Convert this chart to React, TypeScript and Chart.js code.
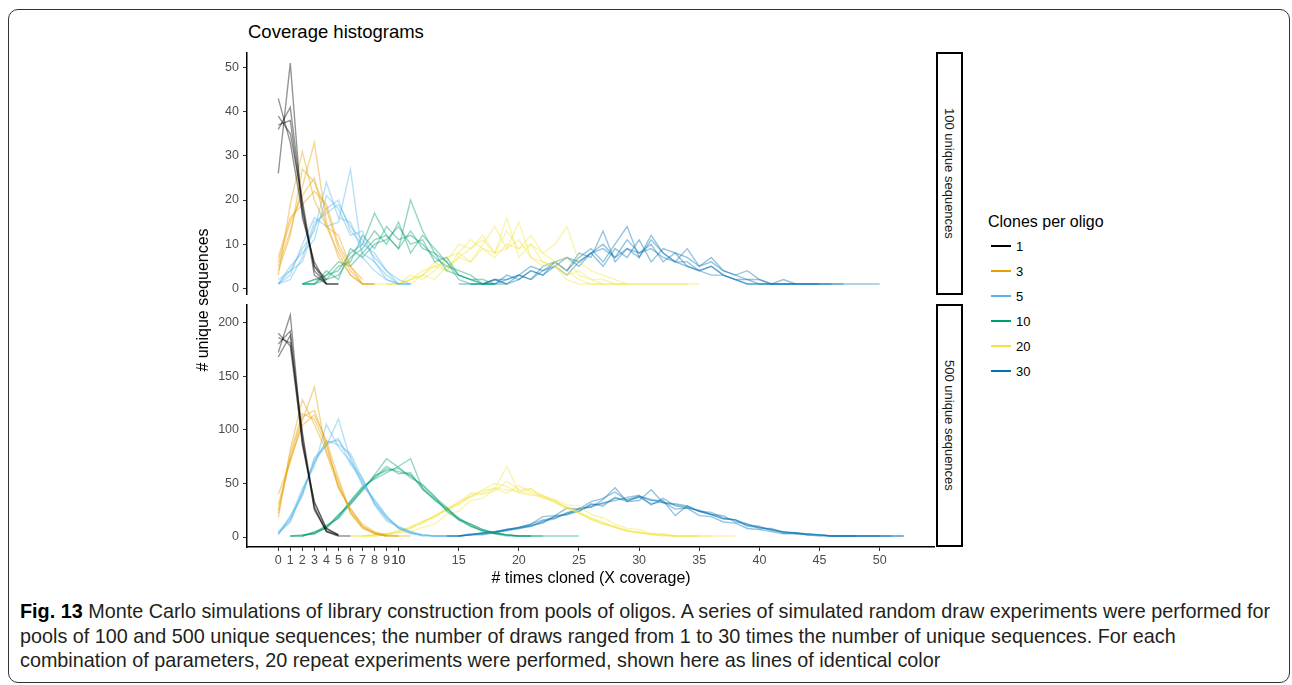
import React, { useEffect, useRef } from "react";
import { Chart, registerables } from "chart.js";
Chart.register(...registerables);

type Run = { start: number; counts: number[] };

// ---------- data ----------
const groupLabels = ["1", "3", "5", "10", "20", "30"];
const groupColors = ["#000000", "#E69F00", "#56B4E9", "#009E73", "#F0E442", "#0072B2"];
const xTickValues = [0, 1, 2, 3, 4, 5, 6, 7, 8, 9, 10, 10, 15, 20, 25, 30, 35, 40, 45, 50];
const yTicksTop = [0, 10, 20, 30, 40, 50];
const yTicksBottom = [0, 50, 100, 150, 200];
const xRange = [-2.6, 54.6];
const yRangeTop = [-1.5, 53.5];
const yRangeBottom = [-9.3, 217.3];
const panelLabels = ["100 unique sequences", "500 unique sequences"];

// 100 unique sequences
const top1: Run[] = [
  { start: 0, counts: [37, 38, 18, 5, 2] },
  { start: 0, counts: [43, 33, 17, 5, 1, 1] },
  { start: 0, counts: [26, 51, 16, 6, 1] },
  { start: 0, counts: [36, 41, 19, 3, 1] },
  { start: 0, counts: [39, 35, 20, 4, 1, 1] },
];
const top3: Run[] = [
  { start: 0, counts: [5, 13, 23, 33, 15, 7, 3, 1] },
  { start: 0, counts: [3, 19, 31, 20, 14, 8, 3, 1, 1] },
  { start: 0, counts: [7, 16, 19, 22, 19, 10, 5, 2] },
  { start: 0, counts: [4, 12, 27, 24, 18, 9, 4, 1, 1] },
  { start: 0, counts: [6, 15, 21, 25, 14, 12, 5, 1, 1] },
];
const top5: Run[] = [
  { start: 0, counts: [1, 4, 9, 13, 24, 16, 15, 8, 6, 2, 1, 1] },
  { start: 0, counts: [1, 2, 7, 15, 17, 19, 14, 11, 7, 4, 2, 1] },
  { start: 0, counts: [1, 5, 8, 11, 21, 18, 12, 13, 6, 3, 1, 1] },
  { start: 0, counts: [1, 3, 10, 16, 14, 15, 27, 7, 4, 2, 1] },
  { start: 0, counts: [2, 4, 6, 14, 18, 20, 13, 10, 8, 4, 1, 1] },
];
const top10: Run[] = [
  { start: 2, counts: [1, 1, 3, 4, 8, 10, 17, 12, 9, 20, 13, 8, 6, 3, 2, 1, 1, 1] },
  { start: 2, counts: [1, 2, 2, 5, 6, 12, 9, 14, 11, 12, 10, 7, 5, 4, 3, 1, 1] },
  { start: 2, counts: [1, 1, 2, 3, 7, 9, 13, 10, 15, 8, 12, 9, 6, 2, 1, 1, 1] },
  { start: 2, counts: [1, 2, 3, 6, 5, 8, 11, 12, 9, 13, 9, 8, 4, 3, 2, 2, 1] },
  { start: 2, counts: [1, 1, 4, 2, 9, 7, 10, 11, 14, 10, 11, 6, 7, 3, 2, 1] },
];
const top20: Run[] = [
  { start: 9, counts: [1, 1, 2, 3, 5, 4, 7, 9, 12, 8, 16, 7, 10, 6, 5, 3, 4, 2, 1, 1, 1] },
  { start: 10, counts: [1, 2, 3, 6, 4, 8, 11, 9, 7, 10, 9, 12, 8, 10, 14, 6, 4, 3, 2, 1, 1, 1, 1, 1, 1] },
  { start: 8, counts: [1, 1, 1, 2, 4, 5, 6, 10, 9, 11, 8, 9, 15, 7, 6, 5, 2, 1, 1, 1] },
  { start: 11, counts: [1, 3, 2, 5, 7, 6, 9, 8, 13, 9, 10, 8, 6, 7, 3, 2, 2, 1, 1] },
  { start: 9, counts: [1, 1, 3, 2, 4, 7, 8, 6, 10, 14, 9, 11, 7, 5, 6, 4, 2, 1, 1, 1, 1, 1, 1, 1, 1, 1, 1] },
];
const top30: Run[] = [
  { start: 16, counts: [1, 1, 2, 1, 3, 2, 4, 5, 3, 6, 8, 5, 9, 7, 11, 6, 9, 8, 7, 5, 6, 4, 3, 4, 2, 1, 2, 1, 1, 1, 1, 1] },
  { start: 17, counts: [1, 2, 1, 2, 4, 3, 6, 4, 7, 9, 6, 10, 14, 7, 12, 8, 6, 9, 5, 7, 4, 3, 2, 2, 1, 1, 1, 1, 1, 1, 1, 1, 1, 1] },
  { start: 15, counts: [1, 1, 1, 2, 2, 3, 5, 4, 6, 7, 5, 8, 10, 7, 9, 8, 10, 6, 8, 5, 4, 5, 3, 2, 2, 1, 1, 1, 1] },
  { start: 18, counts: [1, 2, 3, 2, 5, 6, 4, 8, 7, 13, 6, 9, 7, 11, 8, 6, 5, 4, 3, 3, 2, 1, 1, 1, 1, 1, 1, 1] },
  { start: 17, counts: [1, 1, 3, 2, 4, 3, 5, 7, 6, 8, 9, 7, 11, 8, 9, 7, 6, 6, 4, 5, 3, 2, 1, 1, 1, 1, 1, 1, 1, 1] },
];

// 500 unique sequences
const bot1: Run[] = [
  { start: 0, counts: [180, 192, 95, 25, 6, 2] },
  { start: 0, counts: [190, 178, 90, 32, 8, 2] },
  { start: 0, counts: [172, 207, 88, 27, 5, 1] },
  { start: 0, counts: [186, 181, 98, 28, 5, 1, 1] },
  { start: 0, counts: [168, 188, 86, 33, 8, 2] },
];
const bot3: Run[] = [
  { start: 0, counts: [25, 78, 115, 110, 85, 48, 24, 10, 4, 1, 1] },
  { start: 0, counts: [18, 82, 128, 105, 80, 52, 22, 9, 3, 1] },
  { start: 0, counts: [40, 70, 108, 140, 78, 47, 26, 12, 5, 2, 1, 1] },
  { start: 0, counts: [22, 74, 112, 118, 88, 45, 27, 10, 3, 1, 1] },
  { start: 0, counts: [30, 72, 104, 114, 90, 55, 23, 8, 4, 1] },
];
const bot5: Run[] = [
  { start: 0, counts: [3, 15, 40, 72, 88, 90, 75, 50, 32, 18, 9, 4, 2, 1, 1] },
  { start: 0, counts: [5, 18, 45, 66, 105, 84, 70, 55, 30, 15, 10, 5, 2, 1] },
  { start: 0, counts: [2, 20, 38, 74, 85, 110, 72, 48, 35, 20, 8, 3, 2, 1] },
  { start: 0, counts: [4, 14, 43, 69, 90, 86, 78, 54, 31, 17, 8, 4, 1, 1, 1] },
  { start: 0, counts: [3, 17, 41, 70, 86, 92, 68, 52, 34, 19, 9, 5, 1] },
];
const bot10: Run[] = [
  { start: 1, counts: [1, 1, 4, 10, 18, 33, 46, 55, 64, 61, 58, 46, 35, 27, 17, 10, 6, 4, 2, 1, 1, 1, 1, 1, 1] },
  { start: 2, counts: [2, 3, 9, 21, 30, 44, 58, 73, 65, 55, 49, 38, 24, 16, 12, 7, 3, 2, 1, 1] },
  { start: 1, counts: [1, 1, 5, 8, 19, 34, 47, 54, 60, 66, 73, 45, 34, 26, 18, 11, 5, 4, 2, 1] },
  { start: 2, counts: [1, 4, 11, 17, 31, 43, 57, 62, 64, 57, 48, 37, 28, 16, 10, 6, 3, 1, 1, 1, 1] },
  { start: 1, counts: [1, 2, 3, 9, 20, 32, 45, 56, 66, 59, 60, 44, 36, 25, 17, 12, 7, 4, 2, 1, 1] },
];
const bot20: Run[] = [
  { start: 6, counts: [1, 1, 2, 3, 5, 8, 14, 20, 25, 33, 38, 41, 46, 44, 43, 40, 37, 33, 28, 22, 17, 13, 9, 6, 4, 3, 2, 1, 1, 1, 1, 1, 1] },
  { start: 7, counts: [1, 1, 3, 6, 9, 13, 19, 27, 31, 37, 44, 50, 47, 41, 39, 38, 32, 26, 23, 16, 12, 10, 6, 4, 2, 2, 1, 1, 1] },
  { start: 7, counts: [1, 1, 2, 4, 5, 9, 12, 21, 24, 34, 36, 45, 66, 42, 45, 38, 35, 30, 29, 21, 18, 12, 8, 7, 3, 3, 1, 1, 1] },
  { start: 6, counts: [1, 1, 2, 3, 4, 10, 15, 18, 26, 32, 41, 40, 43, 52, 44, 45, 36, 34, 27, 22, 18, 14, 9, 5, 5, 2, 2, 1, 1, 1, 1] },
  { start: 7, counts: [1, 2, 2, 6, 8, 14, 20, 25, 30, 39, 43, 45, 41, 48, 42, 39, 33, 27, 24, 17, 12, 9, 6, 4, 3, 1, 1] },
];
const bot30: Run[] = [
  { start: 14, counts: [1, 1, 2, 3, 5, 6, 9, 10, 15, 17, 23, 24, 30, 31, 36, 35, 38, 34, 34, 20, 29, 24, 23, 18, 16, 11, 10, 6, 5, 4, 3, 2, 1, 1, 1, 1, 1, 1, 1] },
  { start: 13, counts: [1, 1, 1, 2, 4, 5, 7, 9, 12, 19, 20, 27, 26, 33, 36, 42, 34, 37, 31, 33, 26, 27, 20, 19, 14, 13, 8, 7, 5, 3, 3, 2, 1, 1, 1, 1] },
  { start: 15, counts: [1, 2, 2, 4, 7, 8, 10, 14, 19, 21, 26, 28, 35, 46, 33, 38, 35, 32, 30, 28, 24, 21, 17, 16, 12, 9, 7, 4, 4, 2, 2, 1, 1, 1, 1, 1, 1, 1] },
  { start: 14, counts: [1, 1, 3, 3, 5, 7, 9, 12, 16, 18, 22, 27, 28, 32, 34, 37, 39, 30, 36, 29, 27, 25, 21, 20, 14, 12, 8, 8, 4, 4, 2, 2, 1, 1, 1, 1, 1, 1] },
  { start: 15, counts: [1, 2, 4, 4, 6, 8, 11, 13, 20, 21, 24, 31, 29, 37, 33, 34, 44, 32, 31, 29, 24, 21, 17, 16, 10, 9, 7, 5, 3, 3, 2, 1, 1, 1, 1, 1] },
];

const topPanel = [top1, top3, top5, top10, top20, top30];
const bottomPanel = [bot1, bot3, bot5, bot10, bot20, bot30];

const captionLine1 = " Monte Carlo simulations of library construction from pools of oligos. A series of simulated random draw experiments were performed for";
const captionLine2 = "pools of 100 and 500 unique sequences; the number of draws ranged from 1 to 30 times the number of unique sequences. For each";
const captionLine3 = "combination of parameters, 20 repeat experiments were performed, shown here as lines of identical color";

// ---------- helpers ----------
const FONT = '"Liberation Sans", Arial, Helvetica, sans-serif';

function rgba(hex: string, a: number) {
  const n = parseInt(hex.slice(1), 16);
  return `rgba(${(n >> 16) & 255},${(n >> 8) & 255},${n & 255},${a})`;
}

function buildDatasets(panel: Run[][]) {
  const ds: any[] = [];
  panel.forEach((runs, gi) => {
    runs.forEach((run) => {
      ds.push({
        label: groupLabels[gi],
        data: run.counts.map((c, i) => ({ x: run.start + i, y: c })),
        borderColor: rgba(groupColors[gi], 0.42),
        borderWidth: 1.4,
        pointRadius: 0,
        pointHoverRadius: 0,
        fill: false,
        tension: 0,
      });
    });
  });
  return ds;
}

function yScale(range: number[], ticks: number[]) {
  return {
    type: "linear",
    min: range[0],
    max: range[1],
    afterBuildTicks: (s: any) => {
      s.ticks = ticks.map((v) => ({ value: v }));
    },
    afterFit: (s: any) => {
      s.width = 40;
      s.paddingTop = 0;
      s.paddingBottom = 0;
    },
    ticks: { font: { family: FONT, size: 12.5 }, color: "#4d4d4d", padding: 4 },
    grid: { drawOnChartArea: false, drawTicks: true, tickLength: 4, color: "#333333", lineWidth: 1 },
    border: { display: true, color: "#000000", width: 1.5 },
  };
}

function makeChart(canvas: HTMLCanvasElement, panel: Run[][], bottom: boolean) {
  const xScale: any = bottom
    ? {
        type: "linear",
        min: xRange[0],
        max: xRange[1],
        afterBuildTicks: (s: any) => {
          s.ticks = xTickValues.map((v) => ({ value: v }));
        },
        afterFit: (s: any) => {
          s.height = 43;
          s.paddingLeft = 0;
          s.paddingRight = 0;
        },
        ticks: { autoSkip: false, maxRotation: 0, minRotation: 0, font: { family: FONT, size: 12.5 }, color: "#4d4d4d", padding: 2 },
        grid: { drawOnChartArea: false, drawTicks: true, tickLength: 4, color: "#333333", lineWidth: 1 },
        border: { display: true, color: "#000000", width: 1.5 },
        title: {
          display: true,
          text: "# times cloned (X coverage)",
          font: { family: FONT, size: 16 },
          color: "#000000",
          padding: { top: 0, bottom: 2 },
        },
      }
    : { type: "linear", display: false, min: xRange[0], max: xRange[1] };

  return new Chart(canvas, {
    type: "line",
    data: { datasets: buildDatasets(panel) },
    options: {
      responsive: false,
      animation: false,
      devicePixelRatio: 1,
      events: [],
      layout: { padding: 0 },
      plugins: { legend: { display: false }, tooltip: { enabled: false }, title: { display: false } },
      scales: {
        x: xScale,
        y: bottom ? yScale(yRangeBottom, yTicksBottom) : yScale(yRangeTop, yTicksTop),
      } as any,
    },
  } as any);
}

export default function App() {
  const topRef = useRef<HTMLCanvasElement>(null);
  const botRef = useRef<HTMLCanvasElement>(null);

  useEffect(() => {
    const c1 = makeChart(topRef.current!, topPanel, false);
    const c2 = makeChart(botRef.current!, bottomPanel, true);
    return () => {
      c1.destroy();
      c2.destroy();
    };
  }, []);

  const abs = (s: React.CSSProperties): React.CSSProperties => ({ position: "absolute", ...s });
  const captionStyle = (top: number): React.CSSProperties =>
    abs({ left: 20, top, fontSize: 19.8, lineHeight: "20px", whiteSpace: "nowrap", color: "#231f20" });

  return (
    <div
      style={{
        position: "absolute",
        left: 0,
        top: 0,
        width: 1292,
        height: 685,
        background: "#ffffff",
        overflow: "hidden",
        fontFamily: FONT,
        color: "#000",
      }}
    >
      <div
        style={abs({
          left: 8,
          top: 9,
          width: 1282,
          height: 674,
          border: "1.5px solid #333",
          borderRadius: 10,
          boxSizing: "border-box",
        })}
      />
      <div style={abs({ left: 248, top: 23, fontSize: 18.5, lineHeight: "18.5px", whiteSpace: "nowrap" })}>
        Coverage histograms
      </div>

      <canvas ref={topRef} width={728} height={243} style={abs({ left: 207, top: 52, width: 728, height: 243 })} />
      <canvas ref={botRef} width={728} height={286} style={abs({ left: 207, top: 304, width: 728, height: 286 })} />

      <div
        style={abs({
          left: 53,
          top: 289.5,
          width: 300,
          height: 20,
          lineHeight: "20px",
          fontSize: 16,
          textAlign: "center",
          transform: "rotate(-90deg)",
          whiteSpace: "nowrap",
        })}
      >
        # unique sequences
      </div>

      {panelLabels.map((t, i) => (
        <div
          key={t}
          style={abs({
            left: 936,
            top: i === 0 ? 52 : 304,
            width: 27,
            height: 243,
            border: "2.5px solid #000",
            boxSizing: "border-box",
            background: "#fff",
            display: "flex",
            alignItems: "center",
            justifyContent: "center",
          })}
        >
          <span style={{ writingMode: "vertical-rl", fontSize: 13, color: "#1a1a1a", whiteSpace: "nowrap" }}>{t}</span>
        </div>
      ))}

      <div style={abs({ left: 988, top: 214, fontSize: 16, lineHeight: "16px", whiteSpace: "nowrap" })}>
        Clones per oligo
      </div>
      {groupLabels.map((g, i) => (
        <React.Fragment key={g}>
          <div
            style={abs({
              left: 991,
              top: 245 + 25 * i,
              width: 20,
              height: 2,
              background: groupColors[i],
            })}
          />
          <div style={abs({ left: 1016, top: 239.5 + 25 * i, fontSize: 13, lineHeight: "13px", whiteSpace: "nowrap" })}>
            {g}
          </div>
        </React.Fragment>
      ))}

      <div style={captionStyle(601)}>
        <b style={{ color: "#000" }}>Fig. 13</b>
        {captionLine1}
      </div>
      <div style={captionStyle(626)}>{captionLine2}</div>
      <div style={captionStyle(650)}>{captionLine3}</div>
    </div>
  );
}
